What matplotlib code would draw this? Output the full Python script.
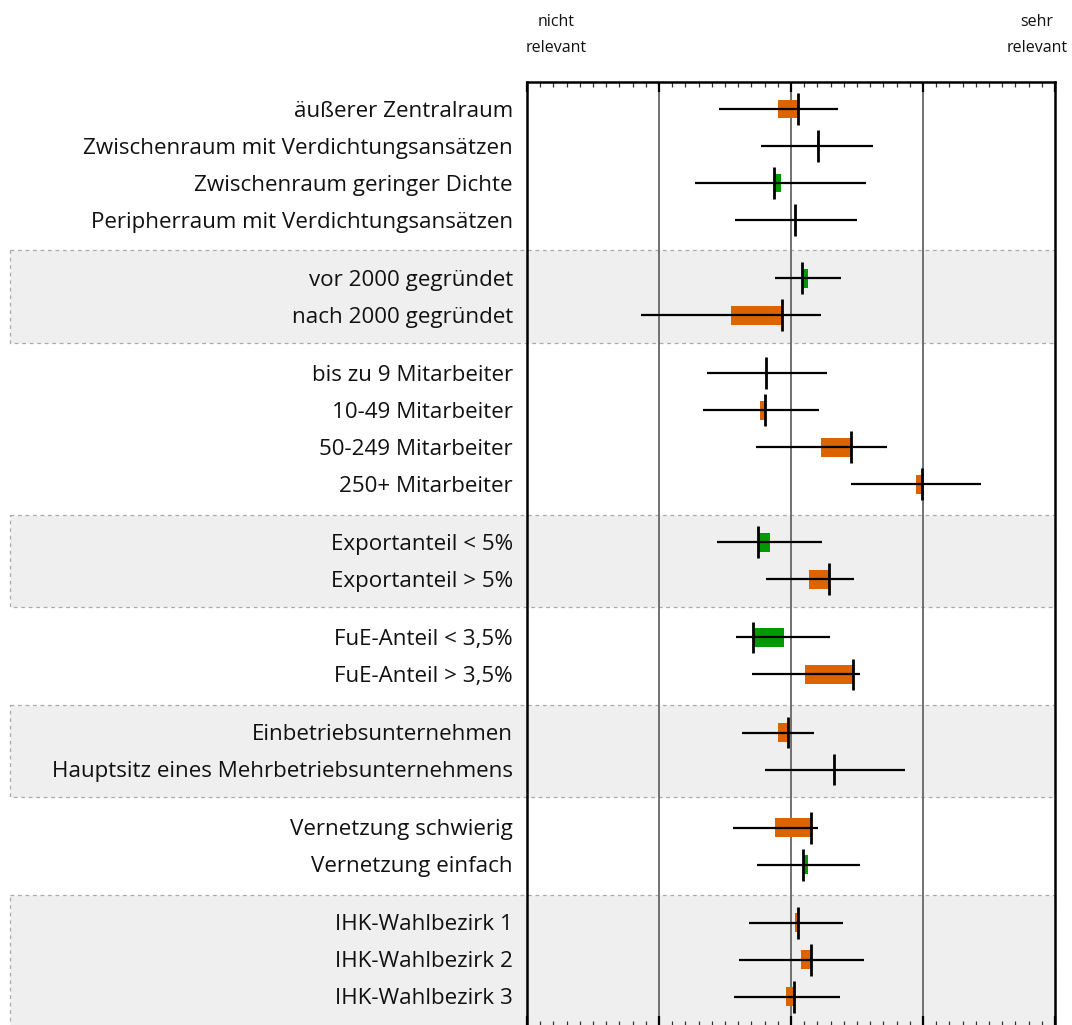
import matplotlib
matplotlib.use("Agg")
import matplotlib.pyplot as plt
from matplotlib.patches import Rectangle
from matplotlib.ticker import MultipleLocator
import matplotlib.transforms as mtransforms

plt.rcParams['font.family'] = ['Open Sans', 'DejaVu Sans']

labels = [
    "äußerer Zentralraum",
    "Zwischenraum mit Verdichtungsansätzen",
    "Zwischenraum geringer Dichte",
    "Peripherraum mit Verdichtungsansätzen",
    "vor 2000 gegründet",
    "nach 2000 gegründet",
    "bis zu 9 Mitarbeiter",
    "10-49 Mitarbeiter",
    "50-249 Mitarbeiter",
    "250+ Mitarbeiter",
    "Exportanteil < 5%",
    "Exportanteil > 5%",
    "FuE-Anteil < 3,5%",
    "FuE-Anteil > 3,5%",
    "Einbetriebsunternehmen",
    "Hauptsitz eines Mehrbetriebsunternehmens",
    "Vernetzung schwierig",
    "Vernetzung einfach",
    "IHK-Wahlbezirk 1",
    "IHK-Wahlbezirk 2",
    "IHK-Wahlbezirk 3",
]
groups = [0, 0, 0, 0, 1, 1, 2, 2, 2, 2, 3, 3, 4, 4, 5, 5, 6, 6, 7, 7, 7]

means = [3.050, 3.205, 2.870, 3.030, 3.080, 2.931, 2.809, 2.803, 3.457, 3.989,
         2.751, 3.285, 2.715, 3.471, 2.975, 3.324, 3.152, 3.089, 3.050, 3.152, 3.022]
low = [2.454, 2.773, 2.274, 2.579, 2.881, 1.864, 2.363, 2.330, 2.737, 3.452,
       2.440, 2.809, 2.587, 2.701, 2.632, 2.806, 2.557, 2.740, 2.679, 2.604, 2.568]
high = [3.355, 3.620, 3.565, 3.499, 3.382, 3.227, 3.271, 3.211, 3.731, 4.440,
        3.235, 3.474, 3.299, 3.524, 3.175, 3.861, 3.208, 3.524, 3.393, 3.554, 3.368]
# other end of the coloured bar (None = no bar)
compare = [2.903, 3.194, 2.925, None, 3.130, 2.546, None, 2.765, 3.230, 3.950,
           2.842, 3.139, 2.947, 3.108, 2.903, None, 2.881, 3.130, 3.030, 3.078, 2.964]

ORANGE = "#DB6300"
GREEN = "#009900"

GAP = 0.57
pos = [i + g * GAP for i, g in enumerate(groups)]

W, H = 1072, 1025
fig = plt.figure(figsize=(W / 100, H / 100), dpi=100)
ax_left, ax_right, ax_top, ax_bot = 527, 1055, 82, 1026
ax = fig.add_axes([ax_left / W, 1 - ax_bot / H, (ax_right - ax_left) / W, (ax_bot - ax_top) / H])

ax.set_xlim(1, 5)
ax.set_ylim(24.78, -0.73)

# shaded group boxes
trans = mtransforms.blended_transform_factory(ax.transAxes, ax.transData)
x0 = (10 - ax_left) / (ax_right - ax_left)
ngroups = max(groups) + 1
for g in range(ngroups):
    if g % 2 == 1:
        rows = [p for p, gg in zip(pos, groups) if gg == g]
        y0 = rows[0] - 0.75
        y1 = rows[-1] + 0.75 if g != ngroups - 1 else 25.5
        rect = Rectangle((x0, y0), 1 - x0, y1 - y0, transform=trans,
                         facecolor="#EFEFEF", edgecolor="#AAAAAA", linewidth=0.9,
                         linestyle=(0, (3, 3)), clip_on=False, zorder=0)
        ax.add_patch(rect)

for v in [2, 3, 4]:
    ax.axvline(v, color="#666666", lw=1.3, zorder=1)

for p, m, lo, hi, c in zip(pos, means, low, high, compare):
    if c is not None:
        color = ORANGE if c < m else GREEN
        ax.barh(p, m - c, left=c, height=0.51, color=color, zorder=2)
    ax.plot([lo, hi], [p, p], color="black", lw=1.6, zorder=3, solid_capstyle="butt")
    ax.plot([m, m], [p - 0.43, p + 0.43], color="black", lw=2.0, zorder=4, solid_capstyle="butt")

for p, lab in zip(pos, labels):
    ax.text(-(14 / (ax_right - ax_left)), p + 0.06, lab, transform=trans, ha="right", va="center",
            fontsize=16.1, color="#111111")

ax.set_yticks([])
ax.xaxis.set_major_locator(MultipleLocator(1))
ax.xaxis.set_minor_locator(MultipleLocator(0.1))
ax.tick_params(axis="x", which="both", direction="in", top=True, bottom=True,
               labelbottom=False, labeltop=False)
ax.tick_params(axis="x", which="major", length=7.5, width=1.6, color="black")
ax.tick_params(axis="x", which="minor", length=3.5, width=0.9, color="#333333")
for s in ["top", "left", "right", "bottom"]:
    ax.spines[s].set_linewidth(1.8)
    ax.spines[s].set_color("black")
ax.set_facecolor("white")

fig.text(556 / W, 1 - 35 / H, "nicht\nrelevant", ha="center", va="center",
         fontsize=11.5, linespacing=1.85, color="#111111")
fig.text(1037 / W, 1 - 35 / H, "sehr\nrelevant", ha="center", va="center",
         fontsize=11.5, linespacing=1.85, color="#111111")

fig.savefig("out.png", dpi=100)
